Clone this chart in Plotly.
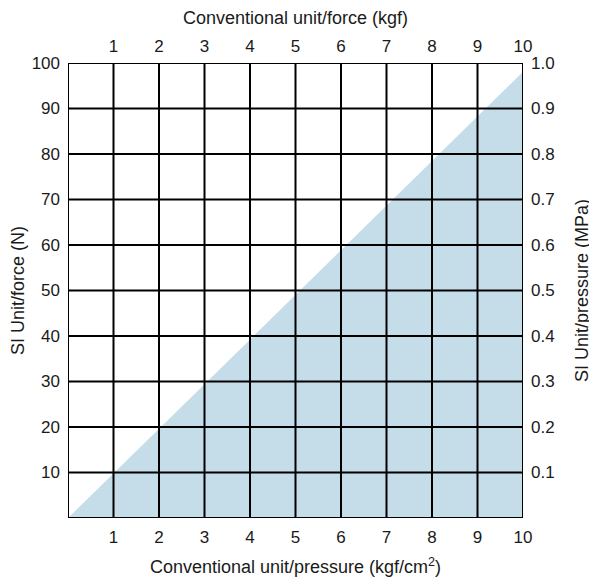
import plotly.graph_objects as go

# Data
kgf_values = [0, 10]                 # conventional unit (kgf or kgf/cm2)
newton_values = [0, 98.07]           # SI force (N), 1 kgf = 9.807 N
x_ticks = [1, 2, 3, 4, 5, 6, 7, 8, 9, 10]
y_ticks_n = [10, 20, 30, 40, 50, 60, 70, 80, 90, 100]
y_ticks_mpa = [0.1, 0.2, 0.3, 0.4, 0.5, 0.6, 0.7, 0.8, 0.9, 1.0]
y_tick_mpa_labels = ["0.1", "0.2", "0.3", "0.4", "0.5", "0.6", "0.7", "0.8", "0.9", "1.0"]

FONT = "Liberation Sans, Arial, sans-serif"
SHADE = "#c5dde9"
TXT = "#1a1a1a"

fig = go.Figure()
fig.add_trace(go.Scatter(
    x=[kgf_values[0], kgf_values[1], kgf_values[1], kgf_values[0]],
    y=[newton_values[0], newton_values[1], 0, 0],
    fill="toself", fillcolor=SHADE, mode="lines", line=dict(width=0),
    hoverinfo="skip", showlegend=False,
))
# invisible trace to bind secondary axes
fig.add_trace(go.Scatter(x=[0, 10], y=[0, 1], xaxis="x2", yaxis="y2",
                         mode="markers", marker=dict(opacity=0),
                         hoverinfo="skip", showlegend=False))

shapes = []
for xv in x_ticks[:-1]:
    shapes.append(dict(type="line", xref="x", yref="y", x0=xv, x1=xv, y0=0, y1=100,
                       line=dict(color="black", width=2), layer="above"))
for yv in y_ticks_n[:-1]:
    shapes.append(dict(type="line", xref="x", yref="y", x0=0, x1=10, y0=yv, y1=yv,
                       line=dict(color="black", width=2), layer="above"))
shapes.append(dict(type="rect", xref="x", yref="y", x0=0, x1=10, y0=0, y1=100,
                   line=dict(color="black", width=2), layer="above"))

def ax(**kw):
    d = dict(showgrid=False, zeroline=False, showline=False, ticks="",
             ticklabelstandoff=7, automargin=False,
             tickfont=dict(family=FONT, size=17, color=TXT),
             title_font=dict(family=FONT, size=18, color=TXT))
    d.update(kw)
    return d

# page body has an 8px margin; compensate so the plot area sits at 68..523 x 63..518
fig.update_layout(
    width=589, height=572,
    margin=dict(l=60, r=74, t=55, b=62, autoexpand=False),
    plot_bgcolor="white", paper_bgcolor="white",
    shapes=shapes,
    xaxis=ax(range=[0, 10], tickvals=x_ticks,
             title=dict(text="Conventional unit/pressure (kgf/cm<sup>2</sup>)", standoff=14)),
    yaxis=ax(range=[0, 100], tickvals=y_ticks_n,
             title=dict(text="SI Unit/force (N)", standoff=7)),
    xaxis2=ax(range=[0, 10], tickvals=x_ticks, overlaying="x", side="top",
              title=dict(text="Conventional unit/force (kgf)", standoff=7)),
    yaxis2=ax(range=[0, 1], tickvals=y_ticks_mpa, ticktext=y_tick_mpa_labels,
              overlaying="y", side="right",
              title=dict(text="SI Unit/pressure (MPa)", standoff=21)),
)

fig.write_html("out.html")
